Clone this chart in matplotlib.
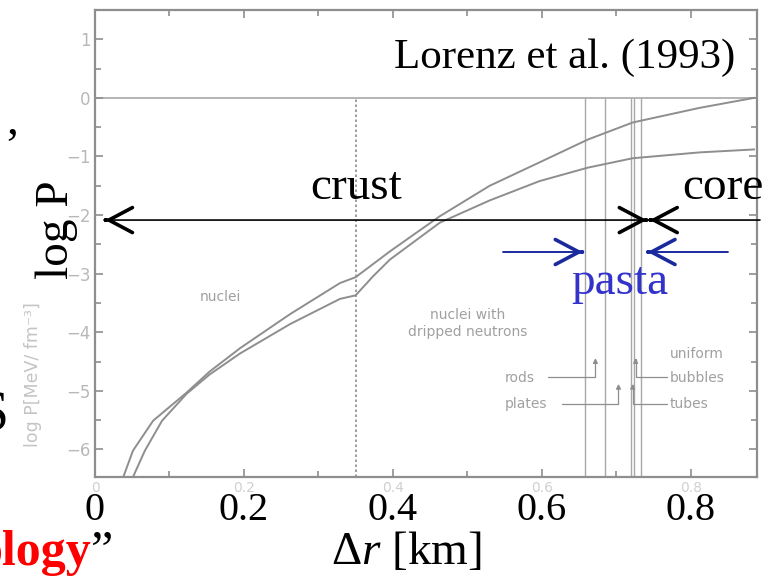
import matplotlib
matplotlib.use("Agg")
import matplotlib.pyplot as plt

plt.rcParams['font.family'] = ['Liberation Serif', 'DejaVu Serif']
plt.rcParams['mathtext.fontset'] = 'custom'
plt.rcParams['mathtext.rm'] = 'Liberation Serif'
plt.rcParams['mathtext.it'] = 'Liberation Serif:italic'

# ---------------- data ----------------
x_upper = [0.038, 0.051, 0.078, 0.123, 0.154, 0.195, 0.262, 0.329, 0.350,
           0.396, 0.463, 0.530, 0.597, 0.662, 0.722, 0.812, 0.885]
y_upper = [-6.47, -6.02, -5.51, -5.03, -4.67, -4.27, -3.69, -3.16, -3.06,
           -2.62, -2.02, -1.50, -1.10, -0.71, -0.42, -0.17, 0.00]

x_lower = [0.051, 0.067, 0.090, 0.123, 0.154, 0.195, 0.262, 0.329, 0.350,
           0.373, 0.396, 0.463, 0.530, 0.597, 0.662, 0.722, 0.812, 0.885]
y_lower = [-6.47, -6.02, -5.51, -5.05, -4.72, -4.36, -3.86, -3.43, -3.37,
           -3.05, -2.76, -2.13, -1.75, -1.42, -1.19, -1.03, -0.93, -0.88]

x_crust_boundary = 0.35
x_phase_lines = [0.658, 0.685, 0.720, 0.724, 0.733]

xticks = [0, 0.2, 0.4, 0.6, 0.8]
xtick_labels = ['0', '0.2', '0.4', '0.6', '0.8']
xticks_minor = [0.1, 0.3, 0.5, 0.7]
yticks = [1, 0, -1, -2, -3, -4, -5, -6]
ytick_labels = ['1', '0', '\u22121', '\u22122', '\u22123', '\u22124', '\u22125', '\u22126']
yticks_minor = [1.5, 0.5, -0.5, -1.5, -2.5, -3.5, -4.5, -5.5]

phase_labels = ['nuclei', 'nuclei with\ndripped neutrons', 'rods', 'plates',
                'uniform', 'bubbles', 'tubes']

# ---------------- figure ----------------
W, H = 776, 576
fig = plt.figure(figsize=(W / 100, H / 100), dpi=100)
ax = fig.add_axes([95 / W, 1 - 477 / H, (757 - 95) / W, (477 - 10) / H])
ax.set_xlim(0, 0.889)
ax.set_ylim(-6.47, 1.44)

gray = '#8e8e8e'
light = '#a8a8a8'
for s in ax.spines.values():
    s.set_color(gray)
    s.set_linewidth(1.6)

# original (faded) plot
ax.plot(x_upper, y_upper, color=gray, lw=1.4, zorder=2)
ax.plot(x_lower, y_lower, color=gray, lw=1.4, zorder=2)
ax.axhline(0, color=light, lw=1.2, zorder=1)
ax.vlines(x_crust_boundary, -6.47, 0, colors=gray, linestyles=(0, (1.5, 1.5)), lw=1.2, zorder=1)
ax.vlines(x_phase_lines, -6.47, 0, colors=light, lw=1.0, zorder=1)

sans = 'DejaVu Sans'
fc = '#a0a0a0'
ax.text(0.168, -3.39, phase_labels[0], fontsize=10, color=fc, family=sans, ha='center', va='center')
ax.text(0.501, -3.85, phase_labels[1], fontsize=10, color=fc, family=sans, ha='center', va='center',
        linespacing=1.3)
ax.text(0.550, -4.78, phase_labels[2], fontsize=10, color=fc, family=sans, ha='left', va='center')
ax.text(0.550, -5.22, phase_labels[3], fontsize=10, color=fc, family=sans, ha='left', va='center')
ax.text(0.772, -4.37, phase_labels[4], fontsize=10, color=fc, family=sans, ha='left', va='center')
ax.text(0.772, -4.78, phase_labels[5], fontsize=10, color=fc, family=sans, ha='left', va='center')
ax.text(0.772, -5.22, phase_labels[6], fontsize=10, color=fc, family=sans, ha='left', va='center')

leader = dict(arrowstyle='-|>', color=gray, lw=0.9, mutation_scale=7,
              shrinkA=0, shrinkB=0, connectionstyle='angle,angleA=0,angleB=90,rad=0')
for start, tip in [((0.608, -4.76), (0.672, -4.44)),
                   ((0.627, -5.22), (0.703, -4.88)),
                   ((0.768, -4.76), (0.726, -4.44)),
                   ((0.768, -5.22), (0.722, -4.88))]:
    ax.annotate('', xy=tip, xytext=start, arrowprops=leader)

# ticks
ax.set_xticks(xticks)
ax.set_xticklabels(xtick_labels, fontsize=29, color='black')
ax.set_xticks(xticks_minor, minor=True)
ax.set_yticks(yticks)
ax.set_yticklabels(ytick_labels, fontsize=12, color='#b8b8b8', family=sans)
ax.set_yticks(yticks_minor, minor=True)
ax.tick_params(axis='both', which='both', direction='in', top=True, right=True, color=gray, width=1.2)
ax.tick_params(axis='both', which='major', length=6)
ax.tick_params(axis='both', which='minor', length=4)
ax.tick_params(axis='x', which='major', pad=11)
ax.tick_params(axis='y', which='major', pad=3)

# faded original x tick labels
for xv, lab in zip(xticks, xtick_labels):
    ax.text(xv, -0.009, lab, transform=ax.get_xaxis_transform(),
            fontsize=10, color='#d0d0d0', family=sans, ha='center', va='top')

# ---------------- overlay annotations ----------------
ax.text(0.630, 0.51, 'Lorenz et al. (1993)', fontsize=31, ha='center', va='baseline', zorder=5)
ax.text(0.350, -1.73, 'crust', fontsize=34, ha='center', va='baseline', zorder=5)
ax.text(0.843, -1.73, 'core', fontsize=34, ha='center', va='baseline', zorder=5, clip_on=False)
ax.text(0.705, -3.34, 'pasta', fontsize=34, ha='center', va='baseline', color='#3333cc', zorder=5)

y_arrow = -2.085
ax.annotate('', xy=(0.741, y_arrow), xytext=(0.0134, y_arrow),
            arrowprops=dict(arrowstyle='-', color='black', lw=1.2, shrinkA=0, shrinkB=0),
            annotation_clip=False)
ax.annotate('', xy=(0.745, y_arrow), xytext=(0.893, y_arrow),
            arrowprops=dict(arrowstyle='-', color='black', lw=1.2, shrinkA=0, shrinkB=0),
            annotation_clip=False)
head = dict(arrowstyle='->,head_length=0.85,head_width=0.45', lw=2.6, shrinkA=0, shrinkB=0,
            mutation_scale=20)
for tip, d in [(0.0134, -1), (0.741, 1), (0.745, -1)]:
    ax.annotate('', xy=(tip, y_arrow), xytext=(tip - d * 0.001, y_arrow),
                arrowprops=dict(color='black', **head), annotation_clip=False)

blue = '#1a2a9e'
y_blue = -2.63
ax.annotate('', xy=(0.655, y_blue), xytext=(0.548, y_blue),
            arrowprops=dict(arrowstyle='-', color=blue, lw=1.4, shrinkA=0, shrinkB=0))
ax.annotate('', xy=(0.742, y_blue), xytext=(0.850, y_blue),
            arrowprops=dict(arrowstyle='-', color=blue, lw=1.4, shrinkA=0, shrinkB=0))
for tip, d in [(0.655, 1), (0.742, -1)]:
    ax.annotate('', xy=(tip, y_blue), xytext=(tip - d * 0.001, y_blue),
                arrowprops=dict(color=blue, **head))

# axis titles
fig.text(33 / W, 1 - 375 / H, 'log P[MeV/ fm\u207b\u00b3]', rotation=90, fontsize=12.5,
         color='#c4c4c4', family=sans, ha='center', va='center')
fig.text(57 / W, 1 - 230 / H, 'log P', rotation=90, fontsize=34, ha='center', va='center')
fig.text(406 / W, 1 - 564 / H, '\u0394$r$ [km]', fontsize=34, ha='center', va='baseline')

# fragments of surrounding slide text
fig.text(6 / W, 1 - 134 / H, ',', fontsize=34, ha='left', va='baseline')
fig.text(8 / W, 1 - 430 / H, 'S', fontsize=40, ha='right', va='baseline')
fig.text(91 / W, 1 - 565 / H, 'ology', fontsize=36, fontweight='bold', color='#ff0000',
         ha='right', va='baseline')
fig.text(91 / W, 1 - 565 / H, '\u201d', fontsize=36, ha='left', va='baseline')

fig.savefig('out.png', dpi=100)
